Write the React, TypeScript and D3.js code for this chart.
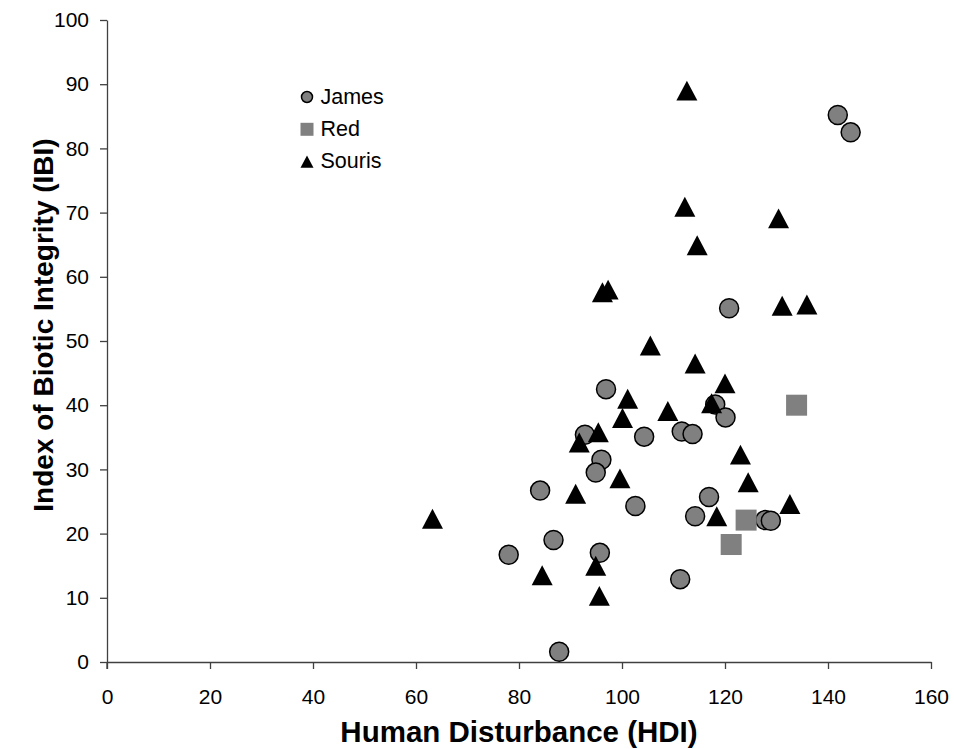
// @ts-nocheck
import React, { useRef, useEffect } from 'react';
import * as d3 from 'd3';

// HDI (x) and IBI (y) per site
const jamesX = [120.8, 96.9, 92.8, 104.3, 111.6, 113.7, 118.1, 120.1, 96.0, 94.9, 84.1, 102.6, 116.9, 114.2, 127.8, 128.9, 86.7, 78.0, 95.7, 111.3, 87.8, 141.9, 144.4];
const jamesY = [55.1, 42.5, 35.4, 35.1, 35.9, 35.5, 40.1, 38.1, 31.5, 29.5, 26.7, 24.3, 25.7, 22.7, 22.1, 22.0, 19.0, 16.7, 17.0, 12.9, 1.6, 85.2, 82.5];

const redX = [133.9, 124.1, 121.2];
const redY = [40.0, 22.1, 18.3];

const sourisX = [105.5, 114.2, 120.0, 101.1, 108.9, 117.4, 100.1, 95.4, 91.7, 123.0, 124.5, 99.6, 91.0, 132.6, 118.4, 63.2, 84.5, 94.9, 95.6, 112.6, 112.2, 130.4, 114.6, 96.2, 97.3, 131.1, 135.9];
const sourisY = [49.3, 46.5, 43.4, 41.0, 39.1, 40.3, 38.0, 35.8, 34.2, 32.3, 28.0, 28.6, 26.2, 24.6, 22.7, 22.3, 13.5, 15.0, 10.3, 89.0, 70.9, 69.1, 64.9, 57.6, 58.0, 55.5, 55.7];

const seriesNames = ["James", "Red", "Souris"];
const xTicks = [0, 20, 40, 60, 80, 100, 120, 140, 160];
const yTicks = [0, 10, 20, 30, 40, 50, 60, 70, 80, 90, 100];

const font = "'Liberation Sans', Arial, sans-serif";

const drawMarker = (g, kind, cx, cy, size) => {
    if (kind === "circle") {
        g.append("circle")
            .attr("cx", cx).attr("cy", cy).attr("r", size / 2 - 0.75)
            .attr("fill", "#808080").attr("stroke", "#000").attr("stroke-width", 1.5);
    } else if (kind === "square") {
        g.append("rect")
            .attr("x", cx - size / 2).attr("y", cy - size / 2)
            .attr("width", size).attr("height", size)
            .attr("fill", "#808080");
    } else {
        const h = size * 0.95;
        g.append("path")
            .attr("d", `M${cx},${cy - h / 2}L${cx + size / 2},${cy + h / 2}L${cx - size / 2},${cy + h / 2}Z`)
            .attr("fill", "#000");
    }
};

const App = () => {
    const ref = useRef(null);

    useEffect(() => {
        const svg = d3.select(ref.current);
        svg.selectAll("*").remove();

        const x = d3.scaleLinear().domain([0, 160]).range([107, 931]);
        const y = d3.scaleLinear().domain([0, 100]).range([662, 20]);

        // axes
        const xAxis = svg.append("g")
            .attr("transform", `translate(0,${y(0)})`)
            .call(d3.axisBottom(x).tickValues(xTicks).tickSize(7).tickSizeOuter(0));
        const yAxis = svg.append("g")
            .attr("transform", `translate(${x(0)},0)`)
            .call(d3.axisLeft(y).tickValues(yTicks).tickSize(7).tickSizeOuter(0));

        [xAxis, yAxis].forEach(a => {
            a.select(".domain").attr("stroke", "#404040").attr("stroke-width", 1.3);
            a.selectAll(".tick line").attr("stroke", "#404040").attr("stroke-width", 1.3);
            a.selectAll(".tick text")
                .attr("font-family", font).attr("font-size", 21).attr("fill", "#000");
        });
        xAxis.selectAll(".tick text").attr("y", 27);
        yAxis.selectAll(".tick text").attr("x", -18);
        // y axis crosses slightly below the x axis
        svg.append("line")
            .attr("x1", x(0)).attr("x2", x(0)).attr("y1", y(0)).attr("y2", y(0) + 7)
            .attr("stroke", "#404040").attr("stroke-width", 1.3);

        // titles
        svg.append("text")
            .attr("x", (x(0) + x(160)) / 2).attr("y", 742)
            .attr("text-anchor", "middle")
            .attr("font-family", font).attr("font-weight", "bold").attr("font-size", 29.5)
            .text("Human Disturbance (HDI)");
        svg.append("text")
            .attr("transform", `translate(53,325) rotate(-90)`)
            .attr("text-anchor", "middle")
            .attr("font-family", font).attr("font-weight", "bold").attr("font-size", 28)
            .text("Index of Biotic Integrity (IBI)");

        // points
        const series = [
            { xs: jamesX, ys: jamesY, kind: "circle" },
            { xs: redX, ys: redY, kind: "square" },
            { xs: sourisX, ys: sourisY, kind: "triangle" },
        ];
        series.forEach(s => {
            const g = svg.append("g");
            s.xs.forEach((v, i) => drawMarker(g, s.kind, x(v), y(s.ys[i]), s.kind === "circle" ? 20.5 : 21));
        });

        // legend
        const legend = svg.append("g");
        seriesNames.forEach((name, i) => {
            const cy = 97 + i * 32.3;
            drawMarker(legend, series[i].kind, 307, cy, series[i].kind === "circle" ? 12.5 : 13);
            legend.append("text")
                .attr("x", 320.5).attr("y", cy + 6.8)
                .attr("font-family", font).attr("font-size", 21.5)
                .text(name);
        });
    }, []);

    return <svg ref={ref} width={954} height={749} style={{ position: "absolute", left: 0, top: 0, background: "#fff" }} />;
};

export default App;
